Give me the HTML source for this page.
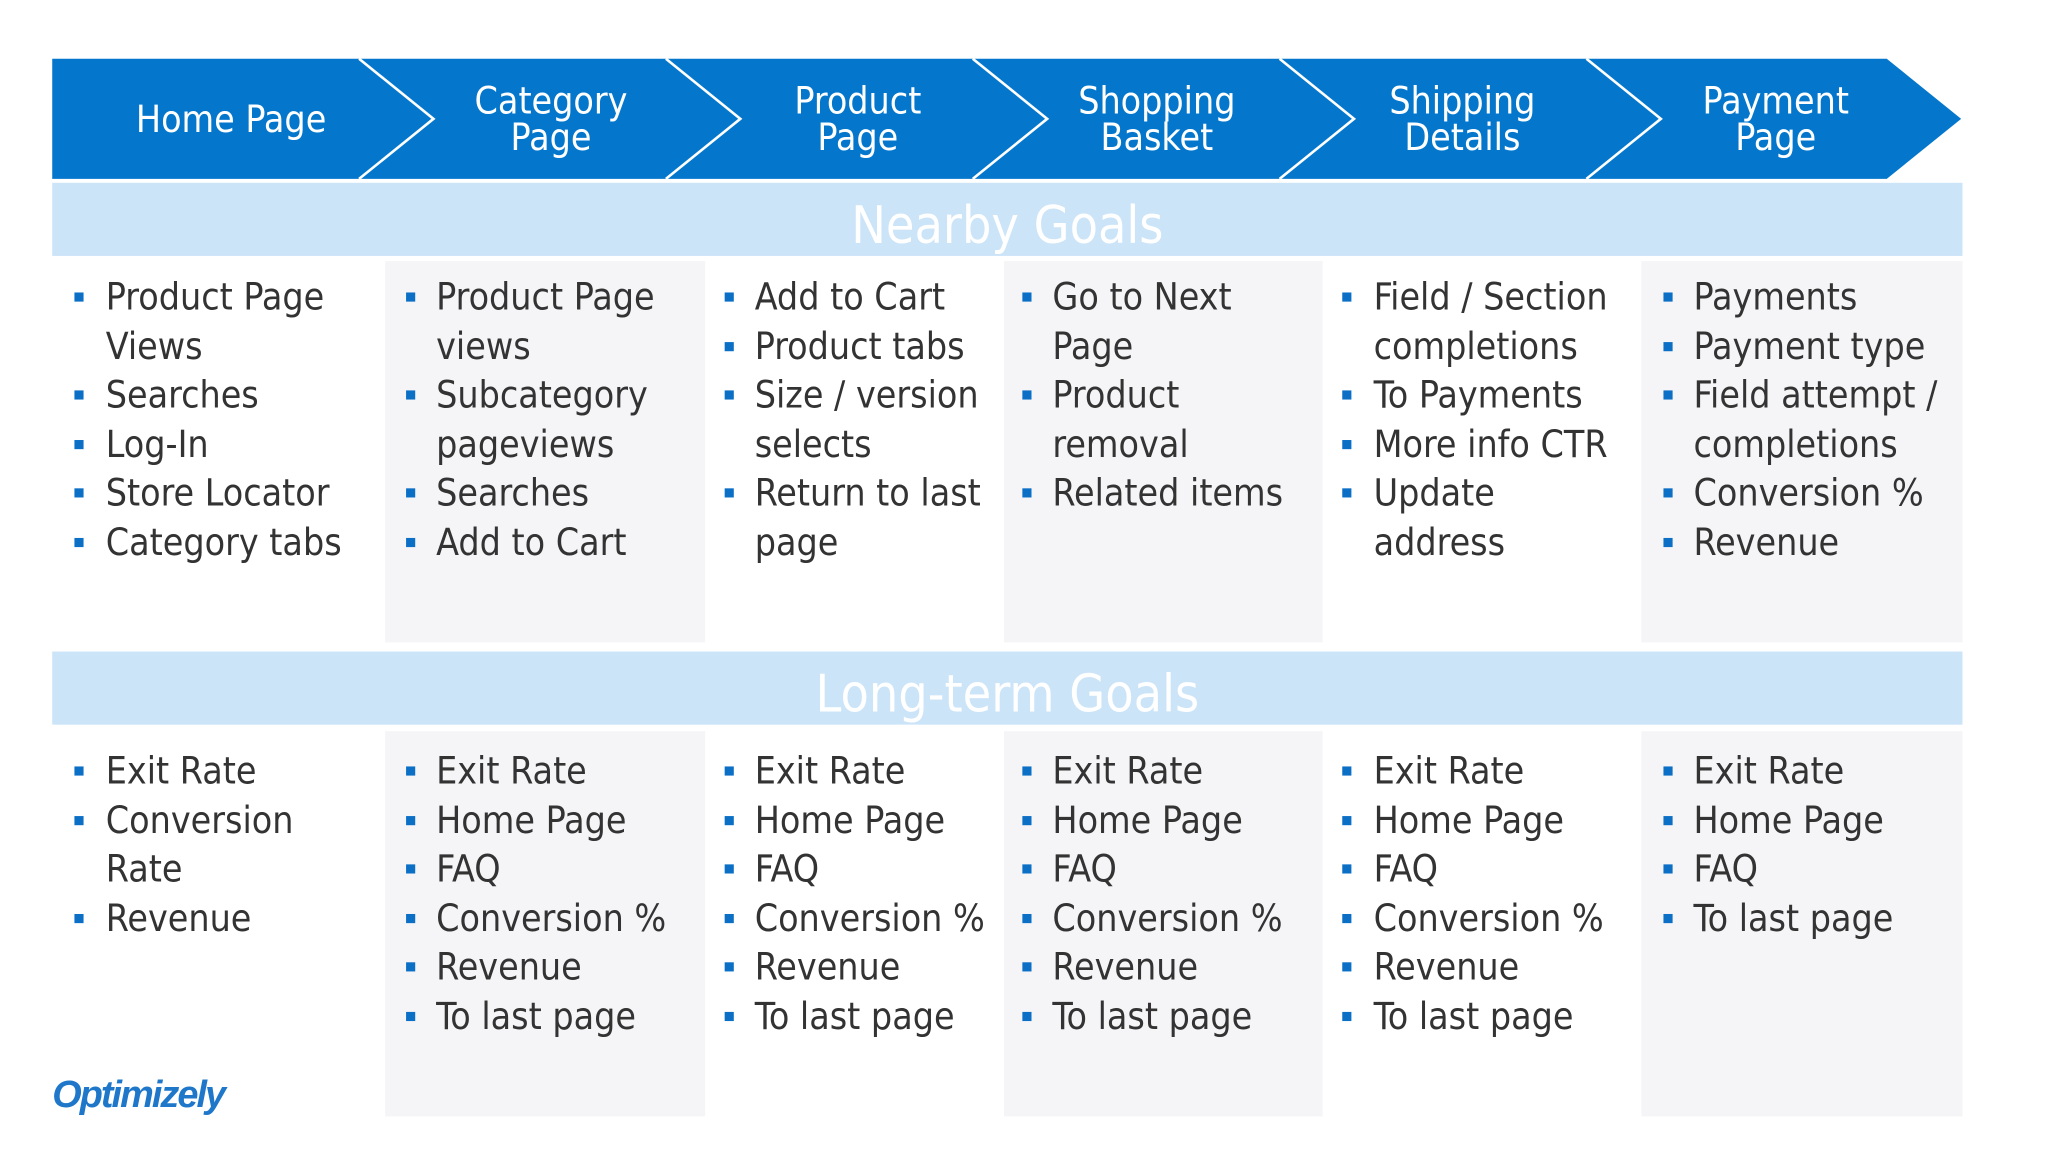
<!DOCTYPE html>
<html><head><meta charset="utf-8"><style>
html,body{margin:0;padding:0;background:#fff;width:2048px;height:1152px;overflow:hidden}
#stage{position:absolute;left:0;top:0;width:1570px;height:885px;transform:scale(1.3057);transform-origin:0 0;font-family:"DejaVu Sans Condensed","DejaVu Sans","Liberation Sans",sans-serif;font-stretch:condensed}
.hdr{position:absolute;color:#fff;font-size:28.5px;line-height:28px;text-align:center;width:240px;margin-left:-120px}
.band{position:absolute;left:40px;width:1463px;height:56px;background:#cce4f8;color:#fff;font-size:39.5px;line-height:66px;text-align:center}
.col{position:absolute;background:#f5f4f7}
.item{position:absolute;color:#333;font-size:28.5px;line-height:37.6px;white-space:nowrap}
.b{position:absolute;width:7px;height:7px;background:#0b6fc6}
</style></head><body>
<div id="stage">
<svg width="1555" height="140" style="position:absolute;left:0;top:0">
<polygon points="40,45 1445,45 1502,91 1445,137 40,137" fill="#0477cc"/>
<g stroke="#fff" stroke-width="2" fill="none">
<polyline points="275,45 332,91 275,137"/><polyline points="510,45 567,91 510,137"/>
<polyline points="745,45 802,91 745,137"/><polyline points="980,45 1037,91 980,137"/>
<polyline points="1215,45 1272,91 1215,137"/>
</g></svg>
<div class="hdr" style="left:177px;top:78px">Home Page</div>
<div class="hdr" style="left:422px;top:64px">Category<br>Page</div>
<div class="hdr" style="left:657px;top:64px">Product<br>Page</div>
<div class="hdr" style="left:886px;top:64px">Shopping<br>Basket</div>
<div class="hdr" style="left:1120px;top:64px">Shipping<br>Details</div>
<div class="hdr" style="left:1360px;top:64px">Payment<br>Page</div>
<div class="band" style="top:140px">Nearby Goals</div>
<div class="band" style="top:499px">Long-term Goals</div>
<div class="col" style="left:295px;top:200px;width:245px;height:292px"></div>
<div class="col" style="left:769px;top:200px;width:244px;height:292px"></div>
<div class="col" style="left:1257px;top:200px;width:246px;height:292px"></div>
<div class="col" style="left:295px;top:560px;width:245px;height:295px"></div>
<div class="col" style="left:769px;top:560px;width:244px;height:295px"></div>
<div class="col" style="left:1257px;top:560px;width:246px;height:295px"></div>
<div id="lists"></div>
<div style="position:absolute;left:40px;top:823px;color:#1f77c9;font:italic bold 29px 'Liberation Sans',sans-serif;letter-spacing:-1.5px">Optimizely</div>
</div>
<script>
const colX=[[57,81],[311,334],[555,578],[783,806],[1028,1052],[1274,1297]];
const nearby=[
[["Product Page","Views"],["Searches"],["Log-In"],["Store Locator"],["Category tabs"]],
[["Product Page","views"],["Subcategory","pageviews"],["Searches"],["Add to Cart"]],
[["Add to Cart"],["Product tabs"],["Size / version","selects"],["Return to last","page"]],
[["Go to Next","Page"],["Product","removal"],["Related items"]],
[["Field / Section","completions"],["To Payments"],["More info CTR"],["Update","address"]],
[["Payments"],["Payment type"],["Field attempt /","completions"],["Conversion %"],["Revenue"]]];
const longterm=[
[["Exit Rate"],["Conversion","Rate"],["Revenue"]],
[["Exit Rate"],["Home Page"],["FAQ"],["Conversion %"],["Revenue"],["To last page"]],
[["Exit Rate"],["Home Page"],["FAQ"],["Conversion %"],["Revenue"],["To last page"]],
[["Exit Rate"],["Home Page"],["FAQ"],["Conversion %"],["Revenue"],["To last page"]],
[["Exit Rate"],["Home Page"],["FAQ"],["Conversion %"],["Revenue"],["To last page"]],
[["Exit Rate"],["Home Page"],["FAQ"],["To last page"]]];
const host=document.getElementById('lists');
function draw(data,top,prefix){
 data.forEach((col,ci)=>{
  let line=0;
  col.forEach((it,ii)=>{
   const y=top+line*37.6;
   const b=document.createElement('div');b.className='b';
   b.style.left=colX[ci][0]+'px';b.style.top=(y+15)+'px';
   
   
   host.appendChild(b);
   const t=document.createElement('div');t.className='item';
   t.style.left=colX[ci][1]+'px';t.style.top=y+'px';
   t.innerHTML=it.join('<br>');
   
   
   host.appendChild(t);
   line+=it.length;
  });
 });
}
draw(nearby,209,'nearby');
draw(longterm,572,'longterm');
</script>
</body></html>
